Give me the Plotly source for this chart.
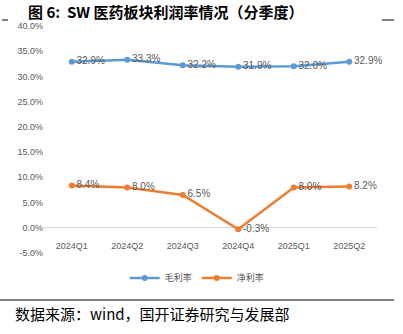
import plotly.graph_objects as go

categories = ["2024Q1", "2024Q2", "2024Q3", "2024Q4", "2025Q1", "2025Q2"]
gross_margin = [32.9, 33.3, 32.2, 31.9, 32.0, 32.9]
net_margin = [8.4, 8.0, 6.5, -0.3, 8.0, 8.2]
y_ticks = [-5, 0, 5, 10, 15, 20, 25, 30, 35, 40]

W, H = 403, 334
L, R, T, B = 44, 26, 26, 81

fig = go.Figure()
tick_font = dict(family="Liberation Sans Narrow, Liberation Sans, sans-serif", size=9, color="#595959")

for name, vals, color in [("毛利率", gross_margin, "#5B9BD5"), ("净利率", net_margin, "#ED7D31")]:
    fig.add_trace(go.Scatter(
        x=categories, y=vals, name=name, mode="lines+markers+text",
        line=dict(color=color, width=2.5),
        marker=dict(color=color, size=6),
        text=[f"{v:.1f}%" for v in vals],
        textposition="middle right",
        textfont=dict(family="Liberation Sans Narrow, Liberation Sans, sans-serif", size=10, color="#595959"),
        cliponaxis=False,
    ))

fig.update_layout(
    width=W, height=H,
    margin=dict(l=L, r=R, t=T, b=B),
    paper_bgcolor="white", plot_bgcolor="white",
    showlegend=True,
    legend=dict(orientation="h", x=0.46, xanchor="center", y=-0.11, yanchor="middle",
                font=dict(family="Noto Sans CJK SC", size=9, color="#595959"),
                itemwidth=30, tracegroupgap=0, bgcolor="rgba(0,0,0,0)"),
    xaxis=dict(type="category", range=[-0.5, 5.5], showgrid=False, showline=False,
               ticks="", tickfont=tick_font, zeroline=False,
               anchor="free", position=5 / 45, ticklabelstandoff=11),
    yaxis=dict(range=[-5, 40], tickvals=y_ticks, ticktext=[f"{v:.1f}%" for v in y_ticks],
               showgrid=False, zeroline=True, zerolinecolor="#D9D9D9", zerolinewidth=1,
               showline=False, ticks="", tickfont=tick_font),
)

def px_x(x):
    return (x - L) / (W - L - R)

def px_y(y):
    return ((H - B) - y) / (H - T - B)

fig.add_annotation(text="<b>图 6:  SW 医药板块利润率情况（分季度）</b>", xref="paper", yref="paper",
                   x=px_x(27), y=px_y(0), xanchor="left", yanchor="top", borderpad=0,
                   showarrow=False, font=dict(family="Noto Sans CJK SC", size=15, color="#000000"))
fig.add_annotation(text="数据来源：wind，国开证券研究与发展部", xref="paper", yref="paper",
                   x=px_x(13), y=px_y(313), xanchor="left", yanchor="middle",
                   showarrow=False, font=dict(family="Noto Sans CJK SC", size=15, color="#000000"))

fig.add_shape(type="line", xref="paper", yref="paper", x0=px_x(0), x1=px_x(394), y0=px_y(300), y1=px_y(300),
              line=dict(color="#000000", width=1))
fig.add_shape(type="line", xref="paper", yref="paper", x0=px_x(2), x1=px_x(8), y0=px_y(20), y1=px_y(20),
              line=dict(color="#000000", width=1))
fig.add_shape(type="line", xref="paper", yref="paper", x0=px_x(382), x1=px_x(394), y0=px_y(20), y1=px_y(20),
              line=dict(color="#000000", width=1))

fig.write_html("out.html")
